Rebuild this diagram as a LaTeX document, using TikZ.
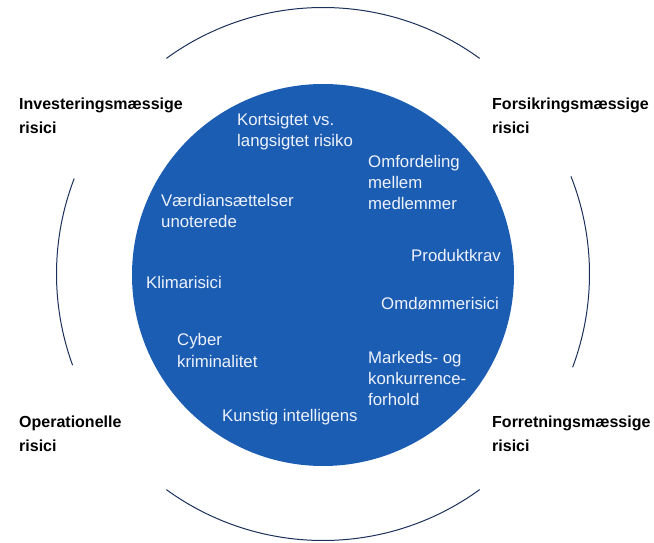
\documentclass[tikz,border=0pt]{standalone}
\usepackage{fontspec}
\setmainfont{Liberation Sans}
\definecolor{discblue}{RGB}{28,93,180}
\definecolor{arcnavy}{RGB}{27,48,90}
\definecolor{softwhite}{RGB}{238,242,250}
\begin{document}
\begin{tikzpicture}[x=1pt,y=1pt,
  outerlabel/.style={anchor=west,inner sep=0pt,align=left,font=\fontsize{16}{24}\selectfont\bfseries,text=black},
  innerlabel/.style={anchor=west,inner sep=0pt,align=left,font=\fontsize{16.8}{21.3}\selectfont,text=softwhite},
  ringarc/.style={draw=arcnavy,line width=1pt}]
\useasboundingbox (0,0) rectangle (654,542);
\coordinate (c) at (323,268);
\coordinate (d) at (323,267);
\fill[discblue] (d) circle[radius=191pt];
% outer ring arcs
\draw[ringarc] (c) ++(54:266.5pt) arc[start angle=54,end angle=126,radius=266.5pt];
\draw[ringarc] (c) ++(234:266.5pt) arc[start angle=234,end angle=306,radius=266.5pt];
\draw[ringarc] (c) ++(159:266.5pt) arc[start angle=159,end angle=200,radius=266.5pt];
\draw[ringarc] (c) ++(-20.5:266.5pt) arc[start angle=-20.5,end angle=21.5,radius=266.5pt];
% outer labels
\node[outerlabel] (inv) at (19,426) {Investeringsmæssige\\risici};
\node[outerlabel] (fors) at (492,426) {Forsikringsmæssige\\risici};
\node[outerlabel] (oper) at (19,108) {Operationelle\\risici};
\node[outerlabel] (forr) at (492,108) {Forretningsmæssige\\risici};
% inner labels
\node[innerlabel] (kort) at (237,410.5) {Kortsigtet vs.\\langsigtet risiko};
\node[innerlabel] (omf) at (368,359.5) {Omfordeling\\mellem\\medlemmer};
\node[innerlabel] (vaerdi) at (161,331) {Værdiansættelser\\unoterede};
\node[innerlabel] (prod) at (411,287) {Produktkrav};
\node[innerlabel] (klima) at (146,260) {Klimarisici};
\node[innerlabel] (omd) at (381,238) {Omdømmerisici};
\node[innerlabel] (cyber) at (177,191.5) {Cyber\\kriminalitet};
\node[innerlabel] (mark) at (368,163.5) {Markeds- og\\konkurrence-\\forhold};
\node[innerlabel] (ki) at (222,125) {Kunstig intelligens};
\end{tikzpicture}
\end{document}
